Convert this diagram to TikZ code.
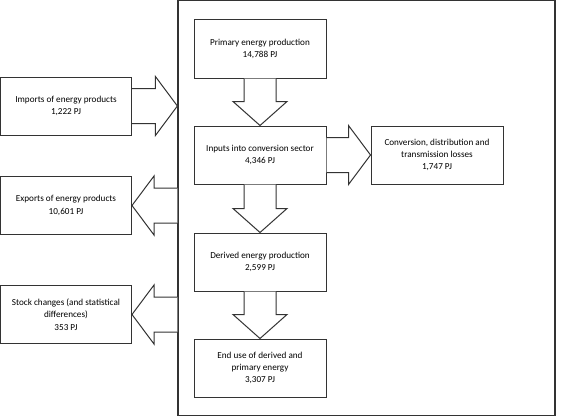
\documentclass[tikz,border=0pt]{standalone}
\usepackage{fontspec}
\setmainfont{Carlito}
\usetikzlibrary{positioning, calc}
\tikzstyle{flow} = [rectangle, draw=black!80, line width=1bp, minimum width=132bp, minimum height=58bp, align=center, font=\fontsize{9.2}{12.4}\selectfont, inner sep=0pt]
\tikzstyle{frame} = [rectangle, draw=black!80, line width=1.2bp, inner sep=0pt]
\tikzstyle{fat} = [draw=black!80, line width=1bp, fill=white, line join=miter]
% block arrows, drawn from one named point to another
\newcommand{\fatdown}[2]{\draw[fat] ($(#1)+(-16,0)$) -- ($(#2)+(-16,24)$) -- ($(#2)+(-27,24)$) -- (#2) -- ($(#2)+(27,24)$) -- ($(#2)+(16,24)$) -- ($(#1)+(16,0)$);}
\newcommand{\fatright}[2]{\draw[fat] ($(#1)+(0,17.5)$) -- ($(#2)+(-22,17.5)$) -- ($(#2)+(-22,29.5)$) -- (#2) -- ($(#2)+(-22,-29.5)$) -- ($(#2)+(-22,-17.5)$) -- ($(#1)+(0,-17.5)$);}
\newcommand{\fatleft}[2]{\draw[fat] ($(#1)+(0,17.5)$) -- ($(#2)+(22,17.5)$) -- ($(#2)+(22,29.5)$) -- (#2) -- ($(#2)+(22,-29.5)$) -- ($(#2)+(22,-17.5)$) -- ($(#1)+(0,-17.5)$);}
\begin{document}
\begin{tikzpicture}[x=1bp, y=1bp, node distance=47bp]
\useasboundingbox (0,0) rectangle (564,416);

% Frame
\node (frame) [frame, minimum width=377bp, minimum height=415bp] at (366.5,208) {};

% Nodes inside the frame
\node (primary) [flow] at (260,367) {Primary energy production\\14,788 PJ};
\node (inputs) [flow, below=of primary] {Inputs into conversion sector\\4,346 PJ};
\node (losses) [flow, right=44bp of inputs] {Conversion, distribution and\\transmission losses\\1,747 PJ};
\node (derived) [flow, below=48bp of inputs] {Derived energy production\\2,599 PJ};
\node (enduse) [flow, below=of derived] {End use of derived and\\primary energy\\3,307 PJ};

% Nodes outside the frame
\node (imports) [flow, minimum width=131bp] at (66,310) {Imports of energy products\\1,222 PJ};
\node (exports) [flow, minimum width=131bp] at (66,210.5) {Exports of energy products\\10,601 PJ};
\node (stock) [flow, minimum width=131bp] at (66,101.5) {Stock changes (and statistical\\differences)\\353 PJ};

\coordinate (impTip) at (frame.west |- imports.east);
\coordinate (expStart) at (frame.west |- exports.east);
\coordinate (stockStart) at (frame.west |- stock.east);
\coordinate (lossTip) at (losses.west |- inputs.east);

% Arrows
\fatdown{primary.south}{inputs.north}
\fatdown{inputs.south}{derived.north}
\fatdown{derived.south}{enduse.north}
\fatright{inputs.east}{lossTip}
\fatright{imports.east}{impTip}
\fatleft{expStart}{exports.east}
\fatleft{stockStart}{stock.east}

\end{tikzpicture}
\end{document}
